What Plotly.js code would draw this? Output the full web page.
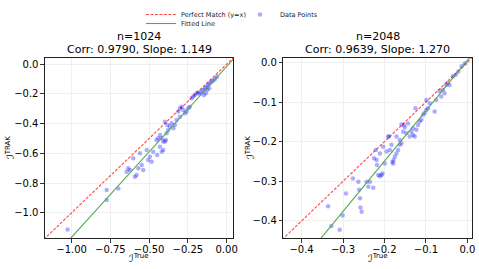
<!DOCTYPE html>
<html><head><meta charset="utf-8">
<script src="https://cdn.plot.ly/plotly-3.0.1.min.js"></script>
<style>html,body{margin:0;padding:0;background:#fff}#c{width:479px;height:269px}</style>
</head><body><div id="c"></div>
<script>
// Panel 1 (n=1024)
const x1 = [-1.026,-0.774,-0.774,-0.699,-0.645,-0.635,-0.624,-0.603,-0.592,-0.581,-0.570,-0.559,-0.548,-0.538,-0.516,-0.506,-0.495,-0.484,-0.474,-0.448,-0.430,-0.419,-0.409,-0.452,-0.441,-0.430,-0.419,-0.409,-0.398,-0.392,-0.398,-0.383,-0.387,-0.377,-0.366,-0.355,-0.344,-0.334,-0.323,-0.301,-0.312,-0.301,-0.290,-0.280,-0.269,-0.258,-0.248,-0.237,-0.226,-0.215,-0.205,-0.194,-0.183,-0.172,-0.161,-0.151,-0.146,-0.140,-0.134,-0.129,-0.125,-0.119,-0.112,-0.108,-0.097,-0.086,-0.075,-0.062];
const y1 = [-1.112,-0.847,-0.914,-0.836,-0.724,-0.701,-0.712,-0.633,-0.757,-0.746,-0.701,-0.600,-0.679,-0.712,-0.578,-0.645,-0.623,-0.656,-0.589,-0.611,-0.555,-0.589,-0.578,-0.510,-0.499,-0.476,-0.499,-0.521,-0.521,-0.510,-0.387,-0.409,-0.465,-0.443,-0.420,-0.398,-0.431,-0.409,-0.375,-0.353,-0.319,-0.297,-0.286,-0.308,-0.330,-0.319,-0.297,-0.286,-0.229,-0.218,-0.207,-0.195,-0.191,-0.200,-0.185,-0.173,-0.207,-0.162,-0.195,-0.151,-0.173,-0.139,-0.162,-0.128,-0.117,-0.110,-0.100,-0.085];
// Panel 2 (n=2048)
const x2 = [-0.336,-0.328,-0.308,-0.301,-0.293,-0.276,-0.263,-0.261,-0.259,-0.258,-0.255,-0.243,-0.239,-0.235,-0.227,-0.225,-0.219,-0.221,-0.218,-0.215,-0.211,-0.207,-0.205,-0.211,-0.203,-0.199,-0.195,-0.191,-0.187,-0.183,-0.181,-0.179,-0.178,-0.175,-0.171,-0.167,-0.163,-0.171,-0.163,-0.159,-0.155,-0.151,-0.143,-0.147,-0.139,-0.135,-0.131,-0.131,-0.127,-0.123,-0.119,-0.115,-0.111,-0.107,-0.103,-0.099,-0.095,-0.099,-0.091,-0.079,-0.075,-0.067,-0.063,-0.059,-0.055,-0.051,-0.047,-0.043,-0.035,-0.028,-0.022,-0.014,-0.006,-0.153,-0.125,-0.189,-0.159];
const y2 = [-0.363,-0.413,-0.422,-0.386,-0.331,-0.293,-0.301,-0.321,-0.343,-0.366,-0.377,-0.301,-0.314,-0.301,-0.316,-0.242,-0.246,-0.221,-0.259,-0.284,-0.287,-0.284,-0.280,-0.230,-0.213,-0.255,-0.225,-0.187,-0.221,-0.208,-0.251,-0.255,-0.246,-0.238,-0.230,-0.221,-0.208,-0.187,-0.196,-0.204,-0.175,-0.164,-0.154,-0.179,-0.187,-0.175,-0.166,-0.183,-0.187,-0.170,-0.158,-0.149,-0.145,-0.132,-0.128,-0.120,-0.116,-0.095,-0.103,-0.124,-0.095,-0.073,-0.086,-0.069,-0.078,-0.057,-0.052,-0.057,-0.035,-0.031,-0.023,-0.010,-0.003,-0.158,-0.116,-0.187,-0.157];

const sizes = ["n=1024", "n=2048"];
const stats = ["Corr: 0.9790, Slope: 1.149", "Corr: 0.9639, Slope: 1.270"];
const slopes = [1.149, 1.270];
const intercepts = [-0.015, 0.005];
const ranges = [[-1.172, 0.041], [-0.444, 0.0105]];
const yranges = [[-1.170, 0.042], [-0.443, 0.011]];
const xTicks1 = [-1.0, -0.75, -0.5, -0.25, 0.0];
const yTicks1 = [-1.0, -0.8, -0.6, -0.4, -0.2, 0.0];
const ticks2 = [-0.4, -0.3, -0.2, -0.1, 0.0];
const xLabel = "True", yLabel = "TRAK";

const FONT = "DejaVu Sans, sans-serif";
const RED = '#ff4848', GREEN = '#4fa84f', BLUE = 'rgba(0,0,255,0.32)';
const traces = [];
const sets = [[x1, y1], [x2, y2]];
for (let i = 0; i < 2; i++) {
  const xa = i === 0 ? 'x' : 'x2', ya = i === 0 ? 'y' : 'y2';
  const lo = Math.min(ranges[i][0], yranges[i][0]) - 0.05, hi = 0.06;
  traces.push({x: [lo, hi], y: [lo, hi], mode: 'lines', xaxis: xa, yaxis: ya,
    line: {color: RED, dash: '3px,1.5px', width: 1.1},
    name: 'Perfect Match (y=x)', legend: 'legend', showlegend: i === 0, hoverinfo: 'skip'});
  traces.push({x: sets[i][0], y: sets[i][1], mode: 'markers', xaxis: xa, yaxis: ya,
    marker: {color: BLUE, size: 4.5, line: {width: 0}},
    name: 'Data Points', legend: 'legend3', showlegend: i === 0});
  const fx = [lo, hi];
  traces.push({x: fx, y: fx.map(v => slopes[i] * v + intercepts[i]), mode: 'lines', xaxis: xa, yaxis: ya,
    line: {color: GREEN, width: 1.1},
    name: 'Fitted Line', legend: 'legend2', showlegend: i === 0, hoverinfo: 'skip'});
}

const axBase = {showline: true, mirror: true, linecolor: '#222', linewidth: 1,
  ticks: 'outside', ticklen: 3.5, tickwidth: 0.8, tickcolor: '#000',
  showgrid: true, gridcolor: '#ebebeb', gridwidth: 0.8, zeroline: false,
  tickfont: {family: FONT, size: 10, color: '#000'}};
const ICAL = 'ℐ';
const lab = (s) => ICAL + '<sup>' + s + '</sup>';

const legFont = {family: FONT, size: 6.5, color: '#222'};
const leg = (x, y) => ({x: x/479, y: y, xanchor: 'left', yanchor: 'top', bgcolor: 'rgba(0,0,0,0)', font: legFont, itemwidth: 30});
const ann = (text, x, y, size, extra) => Object.assign({text, x: x/479, y: 1 - y/269, xref: 'paper', yref: 'paper',
  xanchor: 'center', yanchor: 'middle', showarrow: false, font: {family: FONT, size, color: '#000'}}, extra || {});

const centers = [139, 377.5];
const annotations = [];
for (let i = 0; i < 2; i++) {
  annotations.push(ann(sizes[i], centers[i], 36, 11));
  annotations.push(ann(stats[i], centers[i], 50, 11));
  annotations.push(ann(lab(xLabel), centers[i], 257.5, 10));
}
annotations.push(ann(lab(yLabel), 10, 148, 10, {textangle: -90}));
annotations.push(ann(lab(yLabel), 250, 148, 10, {textangle: -90}));

const layout = {
  width: 479, height: 269, margin: {l: 0, r: 0, t: 0, b: 0},
  paper_bgcolor: '#fff', plot_bgcolor: '#fff', font: {family: FONT},
  xaxis: Object.assign({}, axBase, {domain: [0.0939, 0.4864], range: ranges[0], tickvals: xTicks1, tickformat: '.2f', anchor: 'y', ticklabelstandoff: -2}),
  yaxis: Object.assign({}, axBase, {domain: [0.1152, 0.7844], range: yranges[0], tickvals: yTicks1, tickformat: '.1f', anchor: 'x'}),
  xaxis2: Object.assign({}, axBase, {domain: [0.5915, 0.9848], range: ranges[1], tickvals: ticks2, tickformat: '.1f', anchor: 'y2', ticklabelstandoff: -2}),
  yaxis2: Object.assign({}, axBase, {domain: [0.1152, 0.7844], range: yranges[1], tickvals: ticks2, tickformat: '.1f', anchor: 'x2'}),
  legend: leg(141, 1),
  legend2: leg(141, 1 - 9/269),
  legend3: leg(240, 1),
  annotations
};
Plotly.newPlot('c', traces, layout, {staticPlot: true, displayModeBar: false});
</script></body></html>
